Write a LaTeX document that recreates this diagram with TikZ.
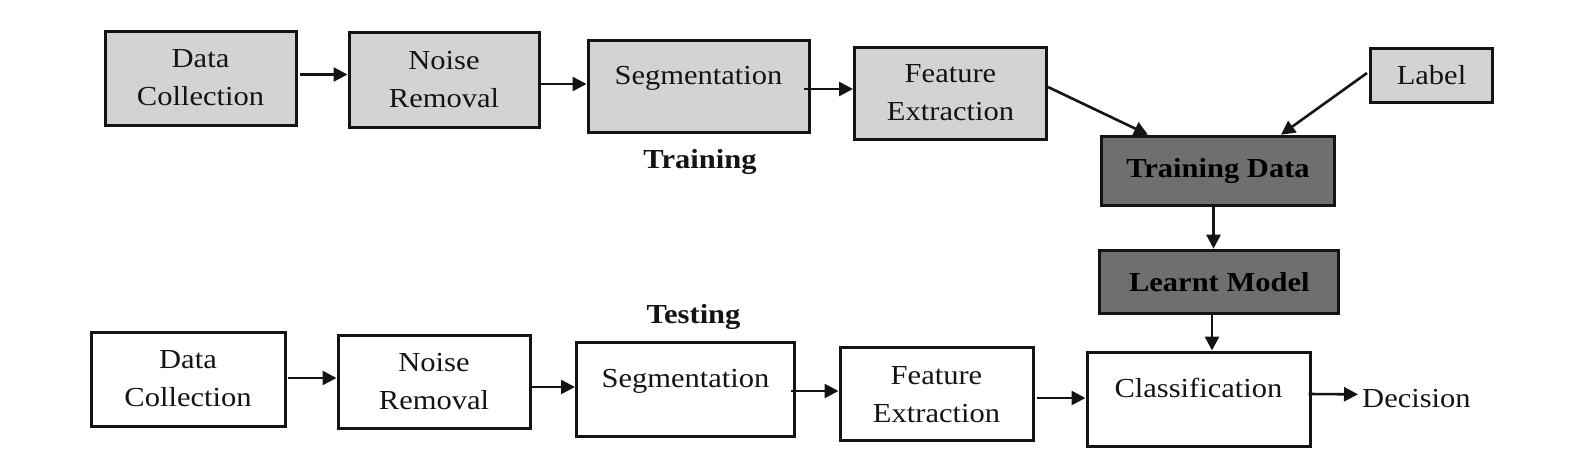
\documentclass[tikz,border=0pt]{standalone}
\usepackage{fontspec}
\setmainfont[FakeStretch=1.11]{Liberation Serif}
\usetikzlibrary{arrows.meta}
\definecolor{boxgray}{HTML}{D3D3D3}
\definecolor{darkbox}{HTML}{6F6F6F}
\definecolor{ink}{HTML}{141414}
\newcommand\fsz{\fontsize{27.5}{38}\selectfont}
\tikzset{
  box/.style={draw=ink, line width=3pt, inner sep=0pt, align=center, font=\fsz, text=ink},
  light/.style={box, fill=boxgray},
  dark/.style={box, fill=darkbox, font=\fsz\bfseries, text=black},
  plain/.style={box, fill=white},
  upt/.style={text height=19pt, text depth=22pt},
  arr/.style={draw=ink, line width=2.6pt, -{Triangle[length=14pt,width=14pt]}},
  lbl/.style={inner sep=0pt, font=\fsz\bfseries, text=ink, anchor=base},
}
\begin{document}
\begin{tikzpicture}[x=1pt,y=-1pt]
\useasboundingbox (0,0) rectangle (1578,466);
% training row
\node[light, minimum width=191pt, minimum height=94pt] (dc1) at (200.5,78) {Data\\Collection};
\node[light, minimum width=190pt, minimum height=95pt] (nr1) at (444,79.5) {Noise\\Removal};
\node[light, upt, minimum width=221pt, minimum height=92pt] (sg1) at (698.5,86) {Segmentation};
\node[light, minimum width=192pt, minimum height=92pt] (fe1) at (950.5,93) {Feature\\Extraction};
\node[light, minimum width=122pt, minimum height=54pt] (lb) at (1431.5,75) {Label};
\node[dark, minimum width=233pt, minimum height=69pt] (td) at (1218,170.7) {Training Data};
\node[dark, minimum width=239pt, minimum height=63pt] (lm) at (1219.3,281.7) {Learnt Model};
\node[lbl] (trn) at (700,168) {Training};
% testing row
\node[lbl] (tst) at (693.5,323) {Testing};
\node[plain, minimum width=194pt, minimum height=94pt] (dc2) at (188,379) {Data\\Collection};
\node[plain, minimum width=192pt, minimum height=93pt] (nr2) at (434,381.5) {Noise\\Removal};
\node[plain, upt, minimum width=218pt, minimum height=94pt] (sg2) at (685.5,389) {Segmentation};
\node[plain, minimum width=193pt, minimum height=93pt] (fe2) at (936.5,394.4) {Feature\\Extraction};
\node[plain, upt, minimum width=223pt, minimum height=94pt] (cl) at (1198.5,399) {Classification};
\node[inner sep=0pt, font=\fsz, text=ink, anchor=base west] (dec) at (1362,407) {Decision};
% training arrows
\draw[arr] ([xshift=2pt,yshift=3.5pt]dc1.east) -- ([yshift=5pt]nr1.west);
\draw[arr] ([xshift=-3pt,yshift=-4.5pt]nr1.east) -- ([yshift=2pt]sg1.west);
\draw[arr] ([xshift=-7pt,yshift=-3pt]sg1.east) -- ([yshift=4pt]fe1.west);
\draw[arr] ([yshift=6pt]fe1.east) -- ([xshift=-70pt]td.north);
\draw[arr] ([xshift=-2pt,yshift=2pt]lb.west) -- ([xshift=63pt]td.north);
\draw[arr] ([xshift=-4.5pt]td.south) -- ([xshift=-5.8pt]lm.north);
\draw[arr] ([xshift=-7.3pt]lm.south) -- ([xshift=13.5pt]cl.north);
% testing arrows
\draw[arr] ([xshift=1pt,yshift=1pt]dc2.east) -- ([yshift=3.5pt]nr2.west);
\draw[arr] ([xshift=-2pt,yshift=-5.5pt]nr2.east) -- ([yshift=2pt]sg2.west);
\draw[arr] ([xshift=-5pt,yshift=-2pt]sg2.east) -- ([yshift=3.4pt]fe2.west);
\draw[arr] ([xshift=2pt,yshift=-3.6pt]fe2.east) -- ([yshift=1pt]cl.west);
\draw[arr] ([xshift=-3pt,yshift=5pt]cl.east) -- ([xshift=-4pt,yshift=3.7pt]dec.west);
\end{tikzpicture}
\end{document}
